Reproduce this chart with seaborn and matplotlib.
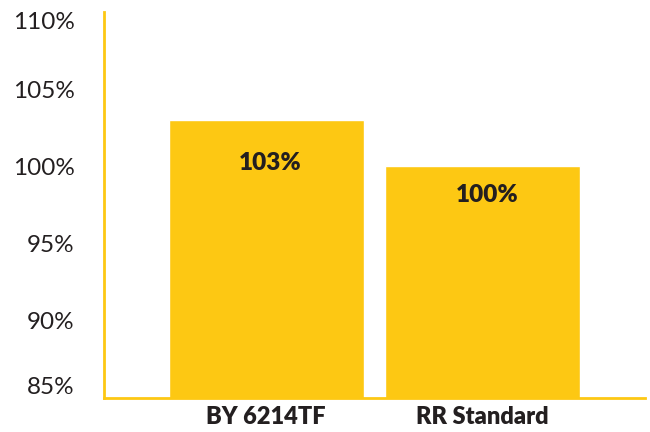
import pandas as pd
import matplotlib.pyplot as plt
import seaborn as sns

products = ['BY 6214TF', 'RR Standard']
yield_pct = [103, 100]
y_ticks = [85, 90, 95, 100, 105, 110]

yellow = '#FDC813'
dark = '#231F20'

sns.set_style('white')
plt.rcParams['font.family'] = ['Lato', 'DejaVu Sans']

data = pd.DataFrame({'product': products, 'yield': yield_pct})

fig = plt.figure(figsize=(6.5, 4.32), dpi=100)
ax = fig.add_axes([0.16, 0.079, 0.832, 0.893])

sns.barplot(data=data, x='product', y='yield', color=yellow, saturation=1,
            width=0.9, ax=ax)

ax.set_ylim(85, 110)
ax.set_xlim(-0.75, 1.75)
ax.set_yticks(y_ticks)
ax.set_yticklabels([f'{t}%' for t in y_ticks])
ax.tick_params(axis='y', length=0, pad=21, labelsize=17.5, labelcolor=dark)
ax.tick_params(axis='x', length=0, pad=6, labelsize=17, labelcolor=dark)
for lbl in ax.get_xticklabels():
    lbl.set_fontweight('heavy')
ylbls = ax.get_yticklabels()
ylbls[0].set_va('bottom')
ylbls[-1].set_va('top')

ax.set_xlabel('')
ax.set_ylabel('')

sns.despine(ax=ax)
for side in ['left', 'bottom']:
    ax.spines[side].set_color(yellow)
    ax.spines[side].set_linewidth(2)

# подписи значений внутри столбцов
offsets = [-43, -29]
for i, v in enumerate(yield_pct):
    ax.annotate(f'{v}%', (i, v), xytext=(3, offsets[i] * 0.72),
                textcoords='offset points', ha='center', va='center',
                fontsize=17.5, fontweight='heavy', color=dark)

plt.savefig('out.png', dpi=100)
